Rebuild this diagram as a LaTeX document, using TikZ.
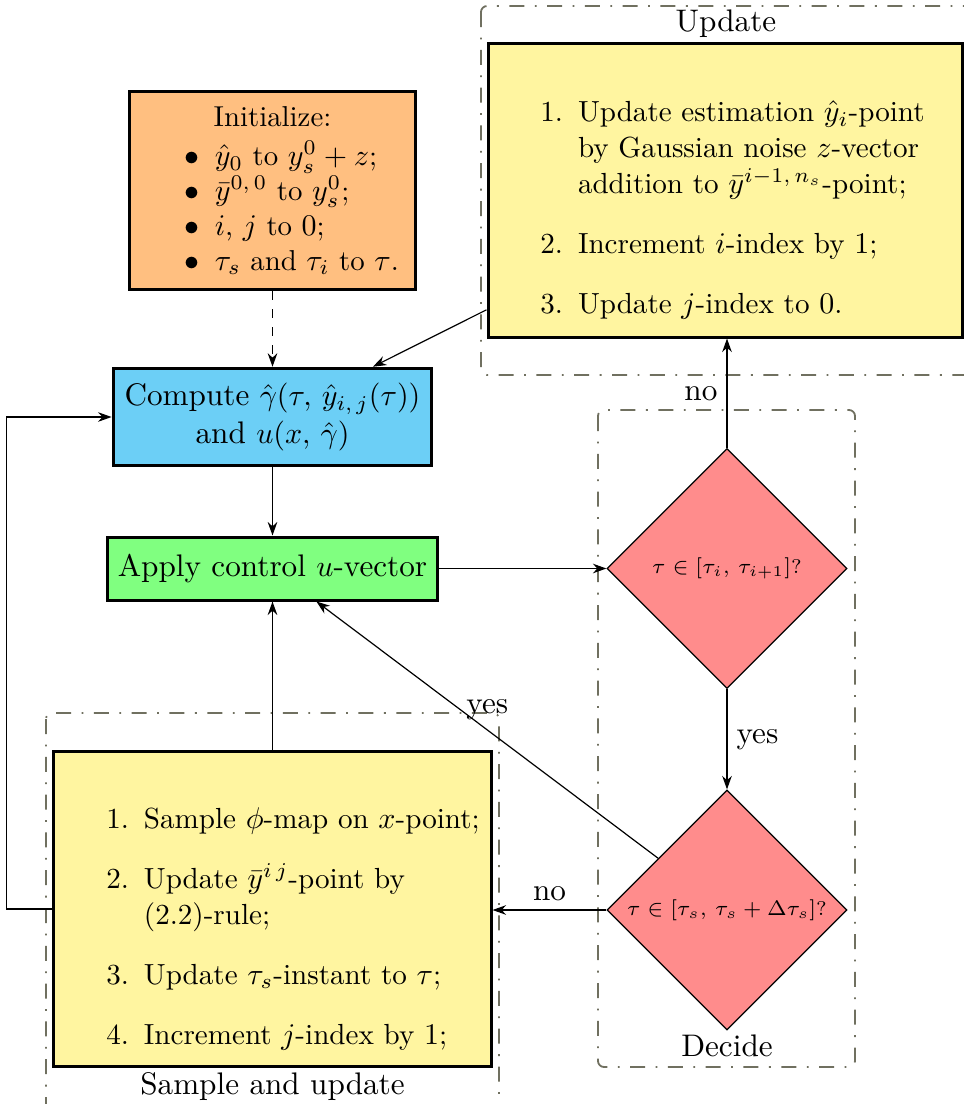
\documentclass[tikz,border=0pt]{standalone}
\usetikzlibrary{shapes.geometric,arrows.meta,calc}

\definecolor{initfill}{RGB}{255,191,128}
\definecolor{computefill}{RGB}{108,207,246}
\definecolor{applyfill}{RGB}{128,255,128}
\definecolor{listfill}{RGB}{255,245,160}
\definecolor{decidefill}{RGB}{255,140,140}
\definecolor{framegray}{RGB}{112,112,96}

% type sizes used in the chart
\newcommand\mainsz{\fontsize{10.4pt}{12.5pt}\selectfont}
\newcommand\listsz{\fontsize{9.7pt}{12pt}\selectfont}
\newcommand\initsz{\fontsize{9.6pt}{11.6pt}\selectfont}
\newcommand\testsz{\fontsize{6.6pt}{8pt}\selectfont}
% one bulleted line of the initialisation box
\newcommand\initline[1]{\noindent\makebox[18.3pt][r]{$\bullet$}\hspace{5pt}\mbox{#1}\par}

\begin{document}
\begin{tikzpicture}[x=0.33333pt,y=-0.33333pt, font=\mainsz,
  box/.style={draw, line width=1pt, inner sep=5pt},
  initbox/.style={box, fill=initfill, text width=85pt, align=left,
    minimum height=65pt, font=\initsz},
  computebox/.style={box, fill=computefill, align=center, inner xsep=3.3pt,
    minimum width=106.3pt, minimum height=30.7pt},
  applybox/.style={box, fill=applyfill, inner xsep=3.5pt,
    minimum width=110.3pt, minimum height=21pt},
  listbox/.style={box, fill=listfill, align=left, font=\listsz},
  decision/.style={diamond, draw, line width=0.4pt, fill=decidefill,
    aspect=1, minimum width=80pt, minimum height=80pt, inner sep=0pt,
    font=\testsz},
  arrow/.style={-{Stealth[length=4.5pt,width=3.2pt]}, line width=0.4pt},
  groupframe/.style={draw=framegray, line width=0.6pt, rounded corners=2pt,
    dash pattern=on 5pt off 3.5pt on 0.6pt off 3.5pt},
  grouplabel/.style={anchor=base, inner sep=0pt},
  tag/.style={inner sep=3pt}
]
\useasboundingbox (0,0) rectangle (963,1104);

% group frames
\draw[groupframe] (481,6) rectangle (1010,375);
\draw[groupframe] (598,410) rectangle (855,1067);
\draw[groupframe] (46,713) rectangle (499,1130);

\node[grouplabel] (updlabel) at (726,31.7) {Update};
\node[grouplabel] (declabel) at (727,1056) {Decide};
\node[grouplabel] (samlabel) at (272.5,1094) {Sample and update};

% process boxes
\node[initbox] (init) at (272.5,190.5) {%
  \centering Initialize:\par\vspace{1.5pt}
  \raggedright
  \initline{$\hat y_0$ to $y_s^0+z$;}
  \initline{$\bar y^{0,\,0}$ to $y_s^0$;}
  \initline{$i$, $j$ to $0$;}
  \initline{$\tau_s$ and $\tau_i$ to $\tau$.}};

\node[computebox] (compute) at (272.5,417)
  {Compute $\hat\gamma(\tau,\,\hat y_{i,\,j}(\tau))$\\ and $u(x,\,\hat\gamma)$};

\node[applybox] (apply) at (272.5,568.5) {Apply control $u$-vector};

\node[listbox, text width=148pt, minimum height=97.7pt] (update) at (725,190.5) {%
  \begin{enumerate}
  \item Update estimation $\hat y_i$-point\\ by Gaussian noise $z$-vector\\
        addition to $\bar y^{i-1,\,n_s}$-point;
  \item Increment $i$-index by $1$;
  \item Update $j$-index to $0$.
  \end{enumerate}};

\node[listbox, text width=135.7pt, minimum height=105.3pt] (sample) at (272.5,909) {%
  \begin{enumerate}
  \item \makebox[\linewidth][l]{Sample $\phi$-map on $x$-point;}
  \item Update $\bar y^{i\,j}$-point by\\ (2.2)-rule;
  \item Update $\tau_s$-instant to $\tau$;
  \item Increment $j$-index by $1$;
  \end{enumerate}};

% decisions
\node[decision] (d1) at (727,568.5) {$\tau\in[\tau_i,\,\tau_{i+1}]$?};
\node[decision] (d2) at (727,910) {$\tau\in[\tau_s,\,\tau_s+\Delta\tau_s]$?};

% connectors
\draw[arrow, dashed] (init) -- (compute);
\draw[arrow] (update) -- (compute);
\draw[arrow] (compute) -- (apply);
\draw[arrow] (apply) -- (d1);
\draw[arrow] (d1) -- node[tag, right] {yes} (d2);
\draw[arrow] (d1.north) -- node[tag, left] {no} (d1.north |- update.south);
\draw[arrow] (d2.west) -- node[tag, above] {no} (d2.west -| sample.east);
\draw[arrow] (d2) -- node[tag, above, pos=0.5] {yes} (apply);
\draw[arrow] (sample) -- (apply);
\draw[arrow] (sample.west) -- ++(-46,0) |- (compute.west);
\end{tikzpicture}
\end{document}
